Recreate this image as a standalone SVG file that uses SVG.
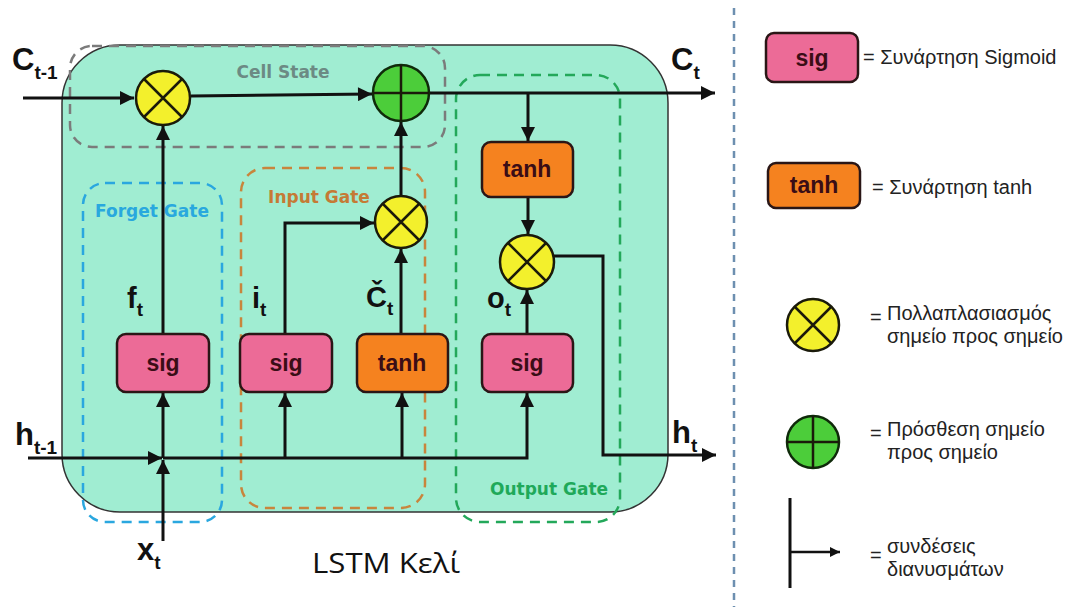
<svg xmlns="http://www.w3.org/2000/svg" width="1084" height="607" viewBox="0 0 1084 607">
<defs>
<marker id="ah" viewBox="0 0 10 10" refX="10" refY="5" markerWidth="15" markerHeight="14" markerUnits="userSpaceOnUse" orient="auto"><path d="M0,0L10,5L0,10z" fill="#111"/></marker>
<marker id="ahs" viewBox="0 0 10 10" refX="10" refY="5" markerWidth="11" markerHeight="10" markerUnits="userSpaceOnUse" orient="auto"><path d="M0,0L10,5L0,10z" fill="#111"/></marker>
<style>
.wire{fill:none;stroke:#111;stroke-width:3}
.box{stroke:#2a1616;stroke-width:2.5}
.sig{fill:#ec6b97}
.tanh{fill:#f5821f}
.blab{font-family:"Liberation Sans",Arial,sans-serif;font-weight:bold;font-size:23px;fill:#3a0d16;text-anchor:middle}
.mul{fill:#f3f02c;stroke:#1a1a0a;stroke-width:2.5}
.add{fill:#4ccd3a;stroke:#0f2a0a;stroke-width:2.5}
.sym{stroke:#1a1a0a;stroke-width:2.5;fill:none}
.var{font-family:"Liberation Sans",Arial,sans-serif;font-weight:bold;font-size:31px;fill:#111}
.var2{font-family:"Liberation Sans",Arial,sans-serif;font-weight:bold;font-size:29px;fill:#111}
.sub{font-size:19px}
.gate{fill:none;stroke-width:2.5;stroke-dasharray:10 7}
.glab{font-family:"DejaVu Sans",sans-serif;font-weight:bold;font-size:17px}
.leg{font-family:"Liberation Sans","Noto Sans",sans-serif;font-size:20px;fill:#222}
</style>
</defs>
<rect width="1084" height="607" fill="#ffffff"/>

<g id="cell">
<rect x="62" y="45" width="606" height="467" rx="58" fill="#a0edd2" stroke="#333" stroke-width="1.5"/>
<text x="312" y="573" font-family="Open Sans, Noto Sans, sans-serif" font-size="28" fill="#111" textLength="148" lengthAdjust="spacingAndGlyphs">LSTM Κελί</text>
</g>

<g id="gate-cell-state">
<rect class="gate" x="70" y="46" width="375" height="101" rx="22" stroke="#7b7b7b"/>
<text class="glab" x="283" y="78" fill="#6c8a84" text-anchor="middle">Cell State</text>
</g>
<g id="gate-forget">
<rect class="gate" x="83" y="183" width="139" height="339" rx="22" stroke="#2aa7df"/>
<text class="glab" x="152" y="217" fill="#29a8de" text-anchor="middle">Forget Gate</text>
</g>
<g id="gate-input">
<rect class="gate" x="241" y="168" width="184" height="340" rx="24" stroke="#c8853c"/>
<text class="glab" x="319" y="203" fill="#c57a35" text-anchor="middle">Input Gate</text>
</g>
<g id="gate-output">
<rect class="gate" x="456" y="75" width="164" height="447" rx="24" stroke="#23a85a"/>
<text class="glab" x="549" y="495" fill="#1fa95a" text-anchor="middle">Output Gate</text>
</g>

<g id="connectors">
<path class="wire" d="M23,98H134" marker-end="url(#ah)"/>
<path class="wire" d="M191,96L372,94" marker-end="url(#ah)"/>
<path class="wire" d="M430,93H715" marker-end="url(#ah)"/>
<path class="wire" d="M528,93V141" marker-end="url(#ah)"/>
<path class="wire" d="M528,197V234" marker-end="url(#ah)"/>
<path class="wire" d="M527,334V290" marker-end="url(#ah)"/>
<path class="wire" d="M554,256H603V455H716" marker-end="url(#ah)"/>
<path class="wire" d="M163,334V126" marker-end="url(#ah)"/>
<path class="wire" d="M28,458H162" marker-end="url(#ah)"/>
<path class="wire" d="M163,458H527V393" marker-end="url(#ah)"/>
<path class="wire" d="M163,541V460" marker-end="url(#ah)"/>
<path class="wire" d="M163,458V393" marker-end="url(#ah)"/>
<path class="wire" d="M285,458V393" marker-end="url(#ah)"/>
<path class="wire" d="M402,458V393" marker-end="url(#ah)"/>
<path class="wire" d="M285,334V223H374" marker-end="url(#ah)"/>
<path class="wire" d="M401,334V249" marker-end="url(#ah)"/>
<path class="wire" d="M401,196V122" marker-end="url(#ah)"/>
</g>

<g id="mul-forget">
<circle class="mul" cx="163" cy="98" r="27"/>
<path class="sym" d="M144,79L182,117M182,79L144,117"/>
</g>
<g id="add-cell">
<circle class="add" cx="401" cy="93" r="28"/>
<path class="sym" d="M373,93H429M401,65V121"/>
</g>
<g id="mul-input">
<circle class="mul" cx="401" cy="222" r="26"/>
<path class="sym" d="M383,204L419,240M419,204L383,240"/>
</g>
<g id="mul-output">
<circle class="mul" cx="527" cy="262" r="27"/>
<path class="sym" d="M508,243L546,281M546,243L508,281"/>
</g>

<g id="sig-forget">
<rect class="box sig" x="117" y="334" width="92" height="58" rx="9"/>
<text class="blab" x="163" y="371">sig</text>
</g>
<g id="sig-input">
<rect class="box sig" x="240" y="334" width="92" height="58" rx="9"/>
<text class="blab" x="286" y="371">sig</text>
</g>
<g id="tanh-input">
<rect class="box tanh" x="357" y="334" width="91" height="58" rx="9"/>
<text class="blab" x="402" y="371">tanh</text>
</g>
<g id="sig-output">
<rect class="box sig" x="482" y="334" width="91" height="58" rx="9"/>
<text class="blab" x="527" y="371">sig</text>
</g>
<g id="tanh-output">
<rect class="box tanh" x="482" y="142" width="91" height="55" rx="9"/>
<text class="blab" x="527" y="177">tanh</text>
</g>

<g id="labels">
<text class="var" x="12" y="70">C<tspan class="sub" dy="9">t-1</tspan></text>
<text class="var" x="671" y="70">C<tspan class="sub" dy="9">t</tspan></text>
<text class="var" x="15" y="445">h<tspan class="sub" dy="9">t-1</tspan></text>
<text class="var" x="672" y="443">h<tspan class="sub" dy="9">t</tspan></text>
<text class="var" x="137" y="560">x<tspan class="sub" dy="9">t</tspan></text>
<text class="var2" x="127" y="308">f<tspan class="sub" dy="8">t</tspan></text>
<text class="var2" x="252" y="308">i<tspan class="sub" dy="8">t</tspan></text>
<text class="var2" x="366" y="307">Č<tspan class="sub" dy="8">t</tspan></text>
<text class="var2" x="487" y="308">o<tspan class="sub" dy="8">t</tspan></text>
</g>

<g id="legend">
<path d="M734,8V607" stroke="#6d8fb0" stroke-width="2.5" stroke-dasharray="7 6"/>
<g id="leg-sig">
<rect class="box sig" x="766" y="33" width="92" height="49" rx="8"/>
<text class="blab" x="812" y="66">sig</text>
<text class="leg" x="863" y="64">= Συνάρτηση Sigmoid</text>
</g>
<g id="leg-tanh">
<rect class="box tanh" x="768" y="163" width="92" height="45" rx="8"/>
<text class="blab" x="814" y="193">tanh</text>
<text class="leg" x="872" y="194">= Συνάρτηση tanh</text>
</g>
<g id="leg-mul">
<circle class="mul" cx="813" cy="325" r="26"/>
<path class="sym" d="M795,307L831,343M831,307L795,343"/>
<text class="leg" x="870" y="324">=</text>
<text class="leg" x="887" y="320">Πολλαπλασιασμός<tspan x="887" dy="23">σημείο προς σημείο</tspan></text>
</g>
<g id="leg-add">
<circle class="add" cx="813" cy="442" r="26"/>
<path class="sym" d="M787,442H839M813,416V468"/>
<text class="leg" x="870" y="440">=</text>
<text class="leg" x="887" y="436">Πρόσθεση σημείο<tspan x="887" dy="23">προς σημείο</tspan></text>
</g>
<g id="leg-conn">
<path d="M790,498V588" stroke="#111" stroke-width="3"/>
<path d="M790,552H840" stroke="#111" stroke-width="2.5" marker-end="url(#ahs)"/>
<text class="leg" x="870" y="562">=</text>
<text class="leg" x="887" y="553">συνδέσεις<tspan x="887" dy="23">διανυσμάτων</tspan></text>
</g>
</g>
</svg>
